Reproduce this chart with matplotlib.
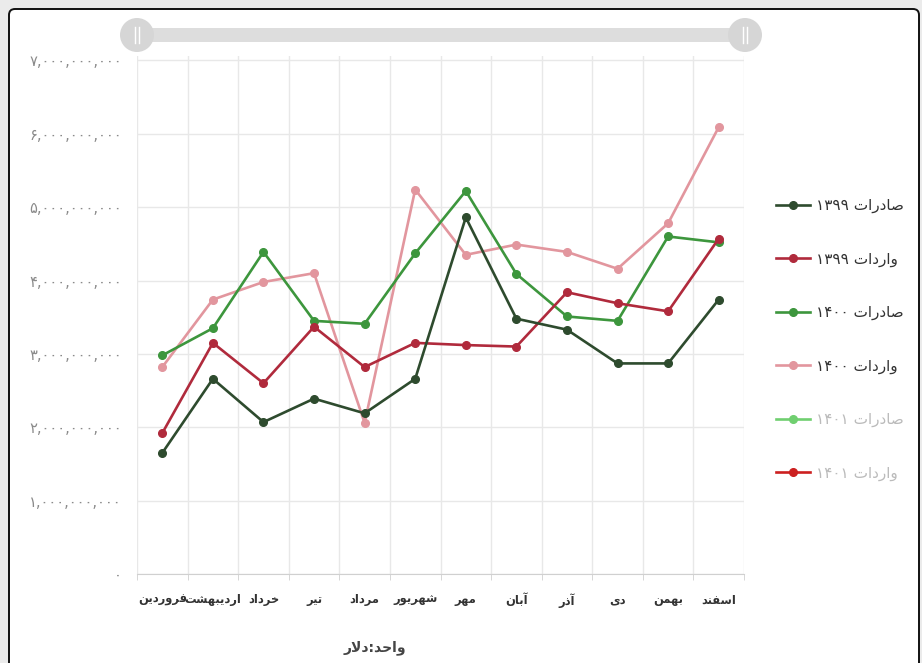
"""
صادرات و واردات ماهانه ۱۳۹۹ تا ۱۴۰۱ (دلار)
نمودار خطی با برچسب‌های فارسی؛ شکل‌دهی حروف عربی با فرم‌های نمایشی انجام می‌شود.
"""

import matplotlib
matplotlib.use("Agg")
import matplotlib.pyplot as plt
from matplotlib.patches import FancyBboxPatch, Circle
from matplotlib.ticker import FuncFormatter, MultipleLocator

MONTHS = ["فروردین", "اردیبهشت", "خرداد", "تیر", "مرداد", "شهریور",
          "مهر", "آبان", "آذر", "دی", "بهمن", "اسفند"]

# مقادیر به میلیارد دلار (از روی تصویر خوانده شده)
EXPORT_1399 = [1.65, 2.66, 2.07, 2.39, 2.19, 2.66, 4.86, 3.48, 3.33, 2.87, 2.87, 3.74]
IMPORT_1399 = [1.92, 3.15, 2.60, 3.37, 2.82, 3.15, 3.12, 3.10, 3.84, 3.69, 3.58, 4.57]
EXPORT_1400 = [2.98, 3.35, 4.39, 3.45, 3.41, 4.37, 5.22, 4.09, 3.51, 3.45, 4.60, 4.52]
IMPORT_1400 = [2.82, 3.74, 3.98, 4.10, 2.06, 5.24, 4.35, 4.49, 4.39, 4.16, 4.78, 6.09]

SERIES_NAMES = ["صادرات ۱۳۹۹", "واردات ۱۳۹۹", "صادرات ۱۴۰۰",
                "واردات ۱۴۰۰", "صادرات ۱۴۰۱", "واردات ۱۴۰۱"]
COLORS = ["#2e4b2e", "#b02a3c", "#3d963d", "#e2969e", "#70cf70", "#cc2020"]
HIDDEN = [False, False, False, False, True, True]   # ۱۴۰۱ در راهنما غیرفعال است

UNIT = "واحد:دلار"

# فرم‌های نمایشی: (تنها، پایانی، آغازی، میانی)
FORMS = {
    "ا": ("\uFE8D", "\uFE8E", None, None),
    "آ": ("\uFE81", "\uFE82", None, None),
    "ب": ("\uFE8F", "\uFE90", "\uFE91", "\uFE92"),
    "ت": ("\uFE95", "\uFE96", "\uFE97", "\uFE98"),
    "ح": ("\uFEA1", "\uFEA2", "\uFEA3", "\uFEA4"),
    "خ": ("\uFEA5", "\uFEA6", "\uFEA7", "\uFEA8"),
    "د": ("\uFEA9", "\uFEAA", None, None),
    "ذ": ("\uFEAB", "\uFEAC", None, None),
    "ر": ("\uFEAD", "\uFEAE", None, None),
    "س": ("\uFEB1", "\uFEB2", "\uFEB3", "\uFEB4"),
    "ش": ("\uFEB5", "\uFEB6", "\uFEB7", "\uFEB8"),
    "ص": ("\uFEB9", "\uFEBA", "\uFEBB", "\uFEBC"),
    "ف": ("\uFED1", "\uFED2", "\uFED3", "\uFED4"),
    "ل": ("\uFEDD", "\uFEDE", "\uFEDF", "\uFEE0"),
    "م": ("\uFEE1", "\uFEE2", "\uFEE3", "\uFEE4"),
    "ن": ("\uFEE5", "\uFEE6", "\uFEE7", "\uFEE8"),
    "ه": ("\uFEE9", "\uFEEA", "\uFEEB", "\uFEEC"),
    "و": ("\uFEED", "\uFEEE", None, None),
    "ی": ("\uFEEF", "\uFEF0", "\uFEF3", "\uFEF4"),
}
LAM_ALEF = {"ا": ("\uFEFB", "\uFEFC"), "آ": ("\uFEF5", "\uFEF6")}


def shape(word):
    """حروف را به شکل پیوسته درمی‌آورد و ترتیب را برای نمایش چپ‌به‌راست برمی‌گرداند."""
    out = []
    i = 0
    while i < len(word):
        c = word[i]
        if c not in FORMS:
            out.append(c)
            i += 1
            continue
        prev = word[i - 1] if i > 0 else ""
        prev_joins = prev in FORMS and FORMS[prev][2] is not None and not (
            prev in LAM_ALEF and i > 1 and word[i - 2] == "ل")
        if c == "ل" and i + 1 < len(word) and word[i + 1] in LAM_ALEF:
            out.append(LAM_ALEF[word[i + 1]][1 if prev_joins else 0])
            i += 2
            continue
        iso, fin, ini, med = FORMS[c]
        nxt = i + 1 < len(word) and word[i + 1] in FORMS
        if prev_joins and nxt and ini:
            out.append(med)
        elif prev_joins:
            out.append(fin)
        elif nxt and ini:
            out.append(ini)
        else:
            out.append(iso)
        i += 1
    return "".join(reversed(out))


def rtl(text):
    """متن چندکلمه‌ای: کلمه‌ها شکل می‌گیرند و ترتیبشان برعکس می‌شود؛ اعداد دست نمی‌خورند."""
    tokens = []
    for t in text.split(" "):
        tokens.append(t if all(ch in "۰۱۲۳۴۵۶۷۸۹" for ch in t) else shape(t))
    return " ".join(reversed(tokens))


def fa_digits(s):
    return s.translate(str.maketrans("0123456789", "۰۱۲۳۴۵۶۷۸۹"))


plt.rcParams["font.family"] = ["DejaVu Sans"]

W, H = 922, 663
fig = plt.figure(figsize=(W / 100, H / 100), dpi=100, facecolor="#ebebeb")

# کارت سفید و نوار لغزنده بالای نمودار (در مختصات پیکسلی)
bg = fig.add_axes([0, 0, 1, 1], zorder=0)
bg.set_xlim(0, W)
bg.set_ylim(H, 0)
bg.axis("off")
bg.add_patch(FancyBboxPatch((9, 9), 910, 680, boxstyle="round,pad=0,rounding_size=6",
                            facecolor="white", edgecolor="#111111", linewidth=1.4))
bg.add_patch(FancyBboxPatch((137, 28), 608, 14, boxstyle="round,pad=0,rounding_size=7",
                            facecolor="#dddddd", edgecolor="none"))
for cx in (137, 745):
    bg.add_patch(Circle((cx, 35), 17, facecolor="#d6d6d6", edgecolor="none"))
    bg.plot([cx - 2, cx - 2], [27, 43], color="white", lw=1.0)
    bg.plot([cx + 2, cx + 2], [27, 43], color="white", lw=1.0)

ax = fig.add_axes([137 / W, 1 - 574 / H, (744 - 137) / W, (574 - 56) / H], zorder=1)
ax.patch.set_alpha(0)

x = range(len(MONTHS))
data = [EXPORT_1399, IMPORT_1399, EXPORT_1400, IMPORT_1400]
lines = [None] * len(SERIES_NAMES)
for k in reversed(range(len(data))):
    vals = [v * 1e9 for v in data[k]]
    lines[k], = ax.plot(x, vals, color=COLORS[k], lw=1.9, marker="o", ms=5.5,
                        zorder=3 + len(data) - k)
for k in range(len(data), len(SERIES_NAMES)):
    lines[k], = ax.plot([], [], color=COLORS[k], lw=1.9, marker="o", ms=5.5)

ax.set_xlim(-0.5, len(MONTHS) - 0.5)
ax.set_ylim(0, 7.06e9)
ax.yaxis.set_major_locator(MultipleLocator(1e9))
ax.yaxis.set_major_formatter(FuncFormatter(lambda v, p: fa_digits(f"{int(round(v)):,}")))
ax.set_xticks(list(x))
ax.set_xticklabels([shape(m) for m in MONTHS], fontweight="bold", fontsize=8.3,
                   color="#333333")
ax.set_xticks([i - 0.5 for i in range(len(MONTHS) + 1)], minor=True)
ax.tick_params(axis="x", which="major", length=0, pad=14)
ax.tick_params(axis="x", which="minor", length=4, color="#d0d0d0")
ax.tick_params(axis="y", length=0, pad=11, labelsize=10.5, labelcolor="#8a8a8a")
ax.grid(True, which="minor", axis="x", color="#e8e8e8", lw=1)
ax.grid(True, which="major", axis="y", color="#e8e8e8", lw=1)
ax.set_axisbelow(True)
for side in ("top", "right", "left"):
    ax.spines[side].set_visible(False)
ax.spines["bottom"].set_color("#d0d0d0")

leg = ax.legend(lines, [rtl(n) for n in SERIES_NAMES], loc="upper left",
                bbox_to_anchor=(1.03, 0.752), frameon=False, fontsize=11,
                handlelength=2.2, handletextpad=0.45, labelspacing=2.5)
for txt, hidden in zip(leg.get_texts(), HIDDEN):
    txt.set_color("#bbbbbb" if hidden else "#333333")

fig.text(375 / W, 1 - 648 / H, shape(UNIT), ha="center", va="center",
         fontsize=10, fontweight="bold", color="#444444")

fig.savefig("out.png", dpi=100, facecolor=fig.get_facecolor())
